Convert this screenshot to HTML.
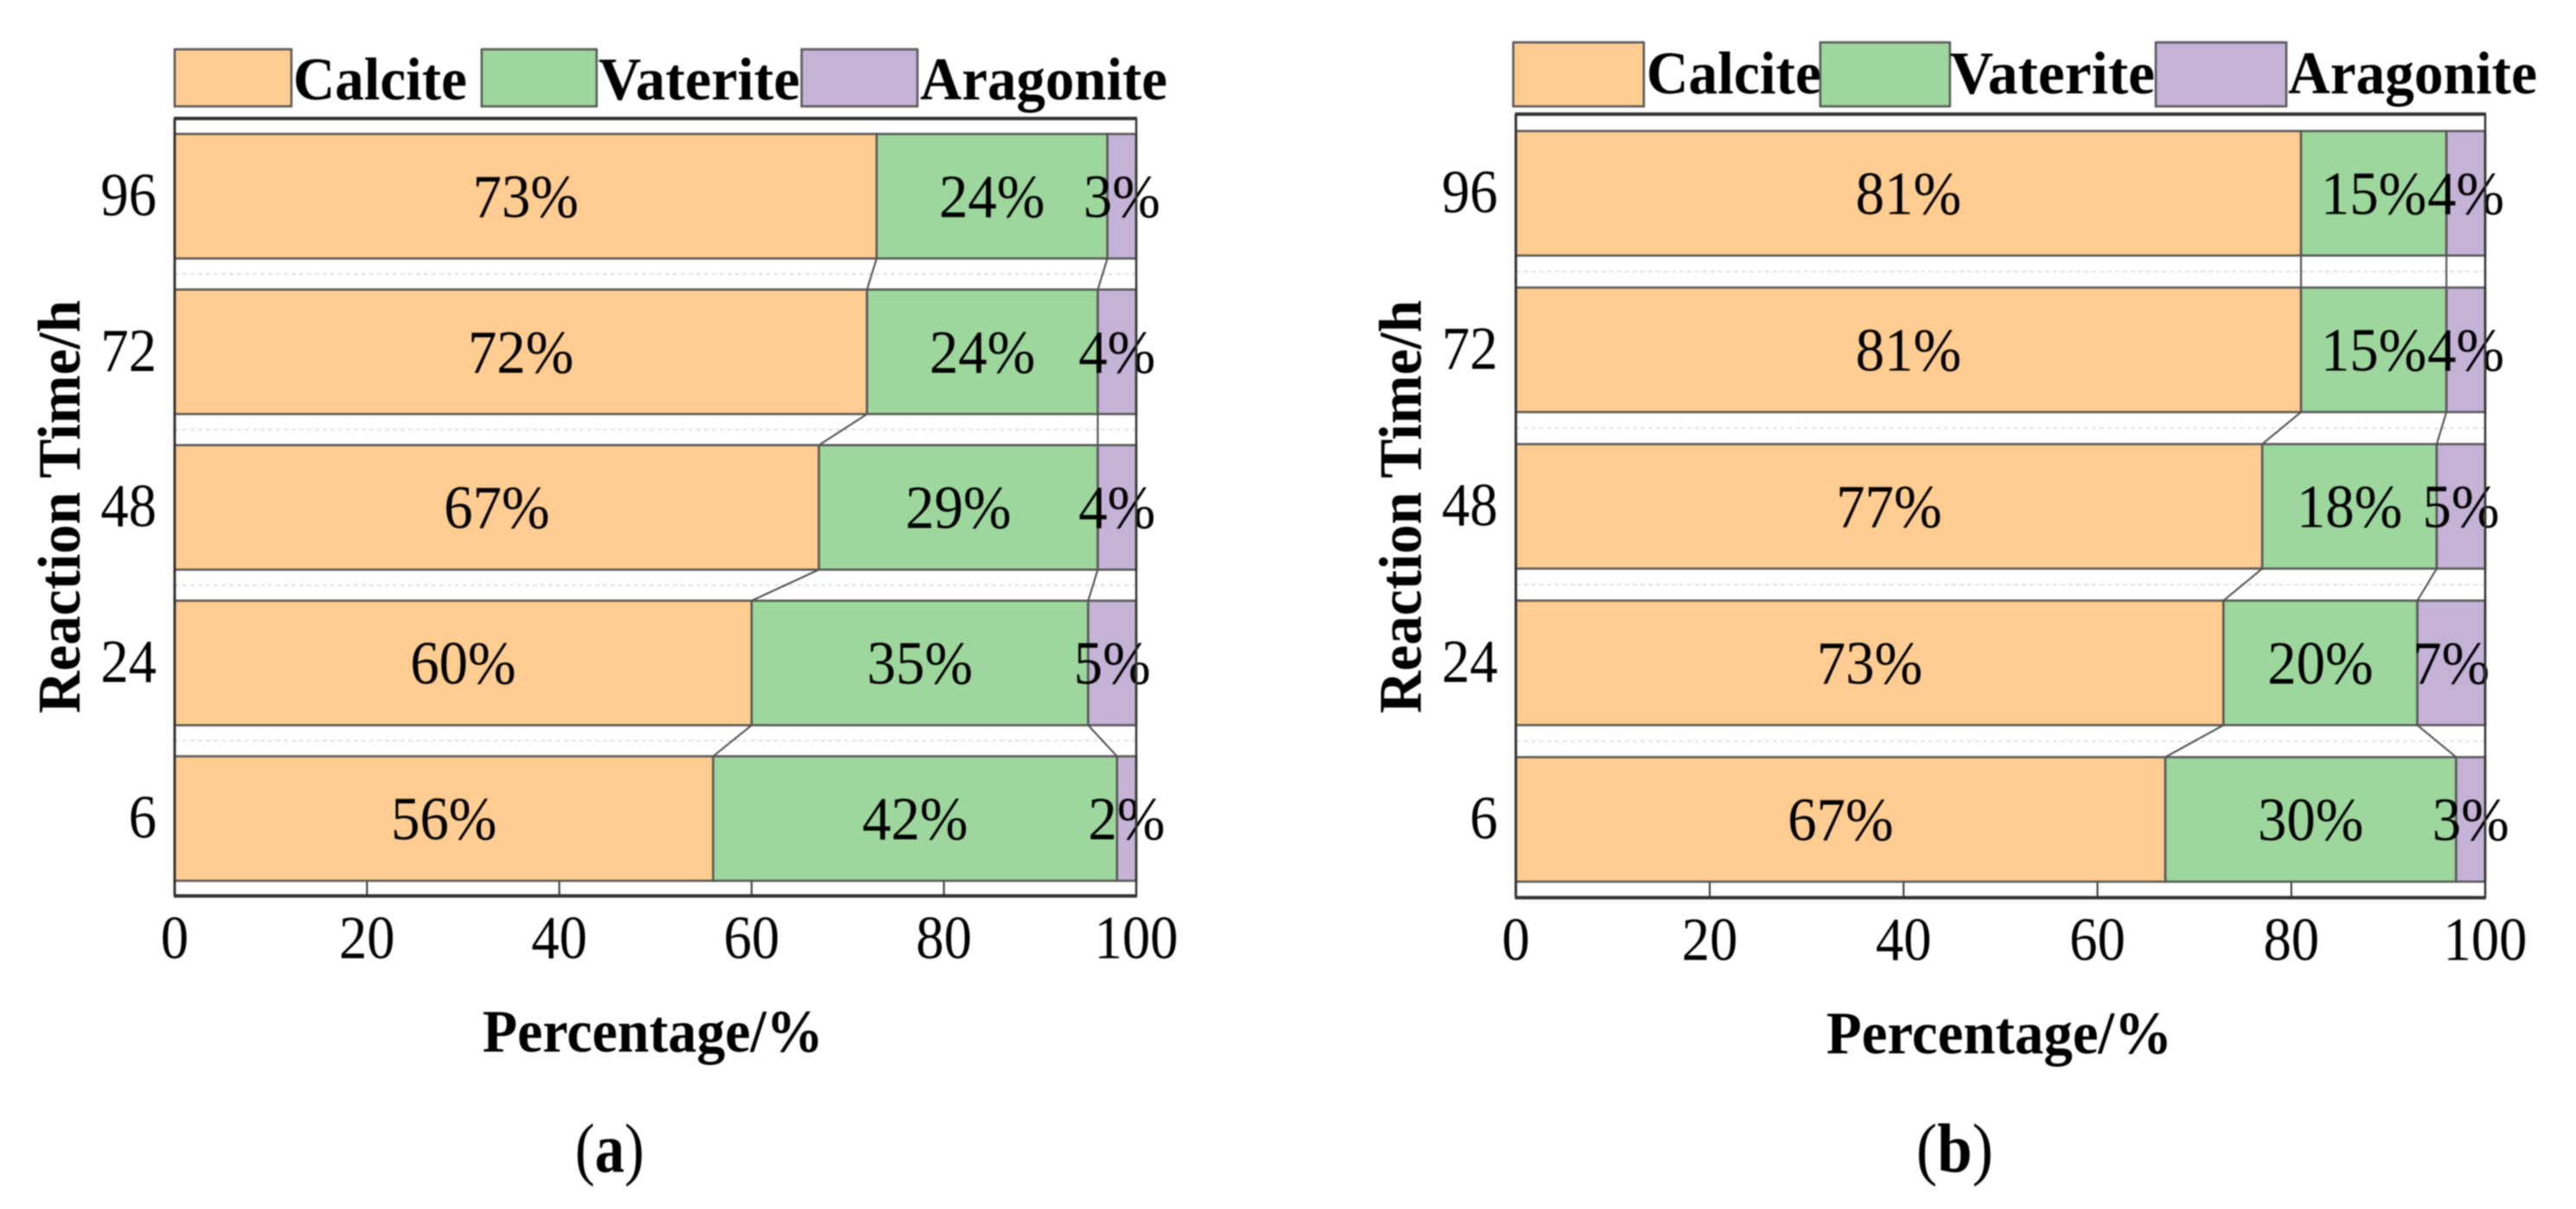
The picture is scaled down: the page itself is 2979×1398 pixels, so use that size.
<!DOCTYPE html>
<html lang="en">
<head>
<meta charset="utf-8">
<title>Crystal phase percentage vs reaction time</title>
<style>
html,body{margin:0;padding:0;background:#fff;width:2979px;height:1398px;overflow:hidden}
svg{display:block;filter:blur(0.8px)}
text{font-family:"Liberation Serif","Times New Roman",serif;fill:#000}
</style>
</head>
<body>
<svg id="figure" xmlns="http://www.w3.org/2000/svg" width="2979" height="1398" viewBox="0 0 2979 1398"></svg>
<script>
// ---- data ----
const categories = ['6', '24', '48', '72', '96'];
const xTickValues = [0, 20, 40, 60, 80, 100];
const seriesNames = ['Calcite', 'Vaterite', 'Aragonite'];
const calciteA = [56, 60, 67, 72, 73];
const vateriteA = [42, 35, 29, 24, 24];
const aragoniteA = [2, 5, 4, 4, 3];
const calciteB = [67, 73, 77, 81, 81];
const vateriteB = [30, 20, 18, 15, 15];
const aragoniteB = [3, 7, 5, 4, 4];

// ---- layout and style ----
const NS = 'http://www.w3.org/2000/svg';
const fills = ['#FFCC91', '#9DD79D', '#C4B2D7'];
const edge = '#555555';
const panelA = {
  id: 'a', series: [calciteA, vateriteA, aragoniteA],
  x0: 202, x1: 1314, top: 137, bottom: 1036, y6: 946.5, step: 179.9, barH: 144,
  tickRight: 181, yTitleX: 92, yTitleBottom: 825, yTitleLen: 478,
  xTitleX: 558, xTitleLen: 394, xTitleY: 1216, xTickY: 1108,
  swatchX: [202, 557, 927], swatchW: [135, 133, 134], swatchTop: 57, swatchBottom: 123,
  legendX: [339, 692, 1064], legendLen: [201, 233, 286], legendY: 115,
  capX: 665, capLen: 80
};
const panelB = {
  id: 'b', series: [calciteB, vateriteB, aragoniteB],
  x0: 1753, x1: 2874, top: 132, bottom: 1038, y6: 947.5, step: 181, barH: 144,
  tickRight: 1732, yTitleX: 1643, yTitleBottom: 825, yTitleLen: 478,
  xTitleX: 2112, xTitleLen: 400, xTitleY: 1218, xTickY: 1110,
  swatchX: [1750, 2105, 2493], swatchW: [151, 150, 151], swatchTop: 49, swatchBottom: 123,
  legendX: [1904, 2255, 2646], legendLen: [202, 237, 288], legendY: 108,
  capX: 2216, capLen: 89
};

const svg = document.getElementById('figure');
function make(parent, tag, attrs) {
  const el = document.createElementNS(NS, tag);
  for (const k in attrs) el.setAttribute(k, attrs[k]);
  parent.appendChild(el);
  return el;
}
function xScale(p, v) { return p.x0 + (p.x1 - p.x0) * v / 100; }
function yScale(p, i) { return p.y6 - p.step * i; }

function drawPanel(p) {
  const g = make(svg, 'g', {});
  
  

  // white plot area
  const bg = make(g, 'rect', { x: p.x0, y: p.top, width: p.x1 - p.x0, height: p.bottom - p.top, fill: '#fff' });
  
  

  // dotted guide lines between bars
  for (let i = 0; i < categories.length - 1; i++) {
    const gy = (yScale(p, i) + yScale(p, i + 1)) / 2;
    const guide = make(g, 'line', { x1: p.x0, x2: p.x1, y1: gy, y2: gy, stroke: '#e0e0e0', 'stroke-width': 2, 'stroke-dasharray': '5 4' });
    
    
  }

  // x ticks
  xTickValues.forEach(function (t) {
    const tx = xScale(p, t);
    const tick = make(g, 'line', { x1: tx, x2: tx, y1: p.bottom, y2: p.bottom - 20, stroke: '#333', 'stroke-width': 2 });
    
    
    const lab = make(g, 'text', { transform: 'translate(' + tx + ',' + p.xTickY + ') scale(0.91,1)', 'font-size': 71, 'text-anchor': 'middle' });
    lab.textContent = String(t);
    
    
  });

  // connector lines and bars
  categories.forEach(function (cat, i) {
    const cy = yScale(p, i);
    let cum = 0;
    p.series.forEach(function (vals, s) {
      const v = vals[i];
      const sx = xScale(p, cum);
      const ex = xScale(p, cum + v);
      const bar = make(g, 'rect', { x: sx, y: cy - p.barH / 2, width: ex - sx, height: p.barH, fill: fills[s], stroke: edge, 'stroke-width': 2.5 });
      
      
      cum += v;
      if (s < 2 && i < categories.length - 1) {
        let nextCum = 0;
        for (let k = 0; k <= s; k++) nextCum += p.series[k][i + 1];
        const conn = make(g, 'line', { x1: ex, y1: cy - p.barH / 2, x2: xScale(p, nextCum), y2: yScale(p, i + 1) + p.barH / 2, stroke: '#4a4a4a', 'stroke-width': 2 });
        
        
      }
    });
    const ytl = make(g, 'text', { transform: 'translate(' + p.tickRight + ',' + (cy + 22) + ') scale(0.91,1)', 'font-size': 71, 'text-anchor': 'end' });
    ytl.textContent = cat;
    
    
  });

  // value labels drawn above all bars
  categories.forEach(function (cat, i) {
    const cy = yScale(p, i);
    let cum = 0;
    p.series.forEach(function (vals, s) {
      const v = vals[i];
      const mid = xScale(p, cum + v / 2);
      cum += v;
      const lab = make(g, 'text', { transform: 'translate(' + mid + ',' + (cy + 24) + ') scale(0.94,1)', 'font-size': 71, 'text-anchor': 'middle' });
      lab.textContent = v + '%';
      
      
    });
  });

  // frame
  const left = make(g, 'line', { x1: p.x0, x2: p.x0, y1: p.top, y2: p.bottom, stroke: '#333', 'stroke-width': 3 });
  
  
  const right = make(g, 'line', { x1: p.x1, x2: p.x1, y1: p.top, y2: p.bottom, stroke: '#333', 'stroke-width': 2.5 });
  
  
  const topLine = make(g, 'line', { x1: p.x0 - 1, x2: p.x1 + 1, y1: p.top, y2: p.top, stroke: '#333', 'stroke-width': 4 });
  
  
  const bottomLine = make(g, 'line', { x1: p.x0 - 1, x2: p.x1 + 1, y1: p.bottom, y2: p.bottom, stroke: '#333', 'stroke-width': 4 });
  
  

  // legend
  seriesNames.forEach(function (name, s) {
    const sw = make(g, 'rect', { x: p.swatchX[s], y: p.swatchTop, width: p.swatchW[s], height: p.swatchBottom - p.swatchTop, fill: fills[s], stroke: edge, 'stroke-width': 2.5 });
    
    
    const lt = make(g, 'text', { x: p.legendX[s], y: p.legendY, 'font-size': 70, 'font-weight': 'bold', textLength: p.legendLen[s], lengthAdjust: 'spacingAndGlyphs' });
    lt.textContent = name;
    
    
  });

  // axis titles
  const yt = make(g, 'text', { transform: 'translate(' + p.yTitleX + ',' + p.yTitleBottom + ') rotate(-90)', 'font-size': 70, 'font-weight': 'bold', textLength: p.yTitleLen, lengthAdjust: 'spacingAndGlyphs' });
  yt.textContent = 'Reaction Time/h';
  
  
  const xt = make(g, 'text', { x: p.xTitleX, y: p.xTitleY, 'font-size': 70, 'font-weight': 'bold', textLength: p.xTitleLen, lengthAdjust: 'spacingAndGlyphs' });
  xt.textContent = 'Percentage/%';
  
  

  // caption
  const cap = make(g, 'text', { x: p.capX, y: 1355, 'font-size': 81, textLength: p.capLen, lengthAdjust: 'spacingAndGlyphs' });
  
  
  cap.appendChild(document.createTextNode('('));
  const capLetter = make(cap, 'tspan', { 'font-weight': 'bold' });
  capLetter.textContent = p.id;
  cap.appendChild(document.createTextNode(')'));
}

drawPanel(panelA);
drawPanel(panelB);
</script>
</body>
</html>
